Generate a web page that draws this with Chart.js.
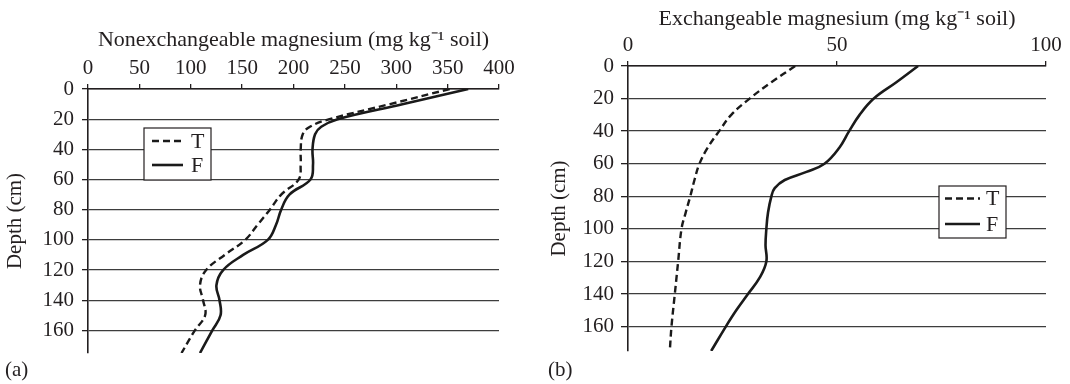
<!DOCTYPE html>
<html>
<head>
<meta charset="utf-8">
<script src="https://cdn.jsdelivr.net/npm/chart.js@4.4.1/dist/chart.umd.min.js"></script>
<style>
  html, body { margin: 0; padding: 0; background: #fff; }
  #wrap { position: relative; width: 1070px; height: 384px; overflow: hidden; }
  canvas { position: absolute; top: 0; }
  #chartA { left: 0; }
  #chartB { left: 530px; }
  .tag { position: absolute; font: 21px "Liberation Serif", serif; line-height: 1; color: #231f20; }
</style>
</head>
<body>
<div id="wrap">
  <canvas id="chartA" width="530" height="384"></canvas>
  <canvas id="chartB" width="540" height="384"></canvas>
  <div class="tag" style="left:5px; top:359px;">(a)</div>
  <div class="tag" style="left:548px; top:359px;">(b)</div>
</div>
<script>
// Soil depth profiles (cm) and magnesium contents (mg kg-1 soil)
const depthTicks = [0, 20, 40, 60, 80, 100, 120, 140, 160];

// (a) Nonexchangeable magnesium
const nonExTicks = [0, 50, 100, 150, 200, 250, 300, 350, 400];
const depthsA = [0, 10, 20, 25, 30, 40, 50, 60, 70, 80, 90, 100, 110, 120, 130, 140, 150, 160, 175];
const nonExT = [352, 294, 235, 216, 209, 207, 207, 205, 188, 177, 165, 153, 133, 115, 109, 112, 114, 104, 91];
const nonExF = [370, 307, 243, 227, 221, 218.5, 219, 216.5, 196, 188, 183, 175, 151, 131.5, 125, 128, 129, 121, 109];

// (b) Exchangeable magnesium
const exTicks = [0, 50, 100];
const depthsBT = [0, 10, 20, 30, 40, 50, 60, 70, 80, 90, 100, 120, 140, 160, 175];
const exT = [40, 34.3, 29.1, 24.7, 21.8, 19.1, 17.1, 15.9, 14.9, 13.8, 12.8, 12.0, 11.2, 10.4, 10.0];
const depthsBF = [0, 10, 20, 30, 40, 50, 60, 65, 70, 75, 80, 90, 100, 110, 120, 130, 140, 150, 160, 175];
const exF = [69.4, 64.2, 58.8, 55.4, 52.9, 50.6, 47.0, 42.7, 37.5, 35.1, 34.3, 33.5, 33.1, 32.9, 33.1, 31.5, 28.7, 25.9, 23.4, 19.9];

const seriesNames = ['T', 'F'];
const INK = '#231f20';
const FONT = '"Liberation Serif", "Times New Roman", serif';

const pairs = (xs, ys) => xs.map((v, i) => ({ x: v, y: ys[i] }));

// Framed legend drawn inside the plot area
const boxLegend = {
  id: 'boxLegend',
  afterDatasetsDraw(chart, args, o) {
    const ctx = chart.ctx;
    ctx.save();
    ctx.fillStyle = '#fff';
    ctx.strokeStyle = INK;
    ctx.lineWidth = 1.2;
    ctx.fillRect(o.x, o.y, o.w, o.h);
    ctx.strokeRect(o.x, o.y, o.w, o.h);
    chart.data.datasets.forEach((ds, i) => {
      const y = o.rows[i];
      ctx.beginPath();
      ctx.setLineDash(ds.borderDash || []);
      ctx.lineWidth = ds.borderWidth;
      ctx.strokeStyle = ds.borderColor;
      ctx.moveTo(o.x1, y);
      ctx.lineTo(o.x2, y);
      ctx.stroke();
      ctx.setLineDash([]);
      ctx.fillStyle = INK;
      ctx.font = '22px ' + FONT;
      ctx.textBaseline = 'middle';
      ctx.textAlign = 'left';
      ctx.fillText(ds.label, o.tx, y + 1);
    });
    ctx.restore();
  }
};

function profileChart(canvas, opt) {
  return new Chart(canvas, {
    type: 'line',
    data: {
      datasets: [
        {
          label: seriesNames[0],
          data: pairs(opt.tVals, opt.tDepths),
          borderColor: '#1a1a1a',
          borderWidth: 2.4,
          borderDash: [7, 4],
          pointRadius: 0,
          tension: 0.4,
          fill: false
        },
        {
          label: seriesNames[1],
          data: pairs(opt.fVals, opt.fDepths),
          borderColor: '#1a1a1a',
          borderWidth: 2.6,
          pointRadius: 0,
          tension: 0.4,
          fill: false
        }
      ]
    },
    options: {
      indexAxis: 'y',
      responsive: false,
      animation: false,
      devicePixelRatio: 1,
      layout: { padding: opt.padding },
      plugins: {
        legend: { display: false },
        tooltip: { enabled: false },
        boxLegend: opt.legend
      },
      scales: {
        x: {
          type: 'linear',
          position: 'top',
          min: 0,
          max: opt.xTicks[opt.xTicks.length - 1],
          afterBuildTicks: s => { s.ticks = opt.xTicks.map(v => ({ value: v })); },
          afterFit: s => { s.height = opt.xAxisHeight; },
          grid: { drawOnChartArea: false, tickLength: 5, color: INK, lineWidth: 1.3 },
          border: { color: INK, width: 1.6 },
          ticks: { color: INK, font: { family: FONT, size: 21 }, padding: opt.xTickPad, maxRotation: 0, autoSkip: false },
          title: {
            display: true,
            text: opt.xTitle,
            color: INK,
            font: { family: FONT, size: 22 },
            padding: { top: opt.xTitleTop, bottom: 0 }
          }
        },
        y: {
          type: 'linear',
          reverse: true,
          min: 0,
          max: 175,
          afterBuildTicks: s => { s.ticks = depthTicks.map(v => ({ value: v })); },
          afterFit: s => { s.width = opt.yAxisWidth; },
          grid: { drawOnChartArea: true, tickLength: opt.yTickLen, color: '#3d3d3d', tickColor: INK, lineWidth: 1.3 },
          border: { color: INK, width: 1.6 },
          ticks: { color: INK, font: { family: FONT, size: 21 }, padding: opt.yTickPad, autoSkip: false },
          title: {
            display: true,
            text: 'Depth (cm)',
            color: INK,
            font: { family: FONT, size: 21 },
            padding: { top: opt.yTitleTop, bottom: 0 }
          }
        }
      }
    },
    plugins: [boxLegend]
  });
}

profileChart(document.getElementById('chartA'), {
  tDepths: depthsA, tVals: nonExT,
  fDepths: depthsA, fVals: nonExF,
  xTicks: nonExTicks,
  xTitle: 'Nonexchangeable magnesium (mg kg\u207B\u00B9 soil)',
  padding: { left: 0, top: 0, right: 31, bottom: 31 },
  xAxisHeight: 89, yAxisWidth: 88,
  xTickPad: 3, xTitleTop: 27,
  yTickLen: 6, yTickPad: 8, yTitleTop: 3,
  legend: { x: 144, y: 128, w: 67, h: 52, rows: [141, 165], x1: 152, x2: 183, tx: 191 }
});

profileChart(document.getElementById('chartB'), {
  tDepths: depthsBT, tVals: exT,
  fDepths: depthsBF, fVals: exF,
  xTicks: exTicks,
  xTitle: 'Exchangeable magnesium (mg kg\u207B\u00B9 soil)',
  padding: { left: 0, top: 0, right: 24, bottom: 33 },
  xAxisHeight: 66, yAxisWidth: 98,
  xTickPad: 3, xTitleTop: 6,
  yTickLen: 7, yTickPad: 7, yTitleTop: 17,
  legend: { x: 409, y: 186, w: 67, h: 52, rows: [198.5, 224], x1: 415, x2: 450, tx: 456 }
});
</script>
</body>
</html>
